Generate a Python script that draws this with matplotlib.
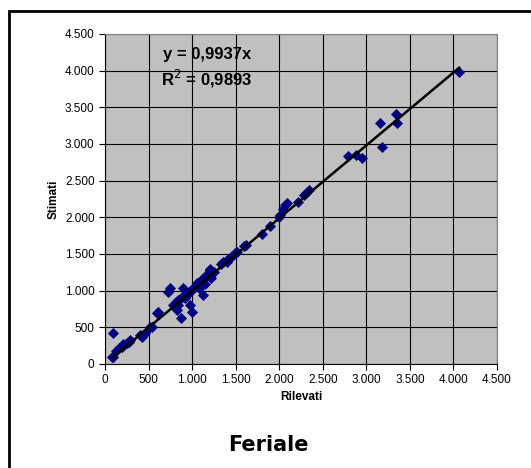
import matplotlib.pyplot as plt
import matplotlib
from matplotlib.patches import Rectangle
from matplotlib.ticker import FuncFormatter

matplotlib.rcParams['font.family'] = ['Liberation Sans', 'DejaVu Sans']

# dati
rilevati = [4065, 3345, 3160, 3350, 3175, 2790, 2880, 2955, 2345, 2305,
            2280, 2220, 2085, 2065, 2045, 2010, 2000, 1895, 1800, 1620,
            1600, 1510, 1490, 1455, 1400, 1360, 1330, 1210, 1190, 1170,
            1130, 1100, 1060, 1040, 1020, 1000, 980, 950, 900, 880,
            860, 840, 820, 800, 780, 750, 735, 725, 1130, 1220,
            1150, 1080, 975, 995, 870, 825, 840, 920, 1200, 1050,
            610, 600, 540, 520, 460, 440, 420, 400, 290, 270,
            250, 210, 190, 155, 130, 95, 85, 90, 1250, 1400, 1430]
stimati = [3985, 3415, 3280, 3290, 2960, 2835, 2850, 2810, 2375, 2330,
           2300, 2215, 2190, 2165, 2110, 2035, 2010, 1885, 1775, 1625,
           1605, 1530, 1510, 1470, 1420, 1395, 1360, 1285, 1250, 1215,
           1170, 1130, 1100, 1070, 1050, 1010, 990, 960, 1035, 920,
           880, 870, 840, 820, 800, 1030, 1000, 985, 945, 1170,
           1090, 1040, 805, 710, 630, 735, 805, 895, 1300, 1060,
           710, 700, 510, 500, 420, 400, 375, 390, 330, 300,
           280, 275, 230, 215, 180, 100, 90, 425, 1260, 1390, 1440]
slope = 0.9937
r2 = 0.9893
ticks = [0, 500, 1000, 1500, 2000, 2500, 3000, 3500, 4000, 4500]

fig = plt.figure(figsize=(5.31, 4.68), dpi=100)
ax = fig.add_axes([105 / 531, 1 - 364 / 468, 392 / 531, 330 / 468])
ax.set_facecolor('#C0C0C0')

ax.scatter(rilevati, stimati, marker='D', s=32, color='#000080', zorder=3, linewidths=0)
xmin, xmax = min(rilevati), max(rilevati)
ax.plot([xmin, xmax], [slope * xmin, slope * xmax], color='black', lw=1.8, zorder=4)

ax.set_xlim(0, 4500)
ax.set_ylim(0, 4500)
ax.set_xticks(ticks)
ax.set_yticks(ticks)
fmt = FuncFormatter(lambda v, p: f"{int(v):,}".replace(',', '.'))
ax.xaxis.set_major_formatter(fmt)
ax.yaxis.set_major_formatter(fmt)
ax.grid(True, color='black', lw=0.8)
ax.set_axisbelow(True)
ax.tick_params(direction='out', length=4, labelsize=8.5, width=0.8)
for s in ['top', 'right']:
    ax.spines[s].set_color('#808080')
for s in ['left', 'bottom']:
    ax.spines[s].set_color('black')

ax.set_xlabel('Rilevati', fontsize=8.5, fontweight='bold', labelpad=3)
ax.set_ylabel('Stimati', fontsize=8.5, fontweight='bold', labelpad=4)

ax.text(0.26, 0.939, f"y = {slope:.4f}x".replace('.', ','), transform=ax.transAxes,
        ha='center', va='center', fontsize=12, fontweight='bold')
ax.text(0.26, 0.865, f"R$^2$ = {r2:.4f}".replace('.', ','), transform=ax.transAxes,
        ha='center', va='center', fontsize=12, fontweight='bold')

fig.text(268 / 531, 1 - 445 / 468, 'Feriale', ha='center', va='center',
         fontsize=15, fontweight='bold', family='DejaVu Sans')

# cornice esterna
fig.patches.append(Rectangle((9 / 531, -0.1), 1.2, 1 - 11 / 468 + 0.1,
                             transform=fig.transFigure, fill=False,
                             edgecolor='black', lw=2))

plt.savefig('out.png', dpi=100)
